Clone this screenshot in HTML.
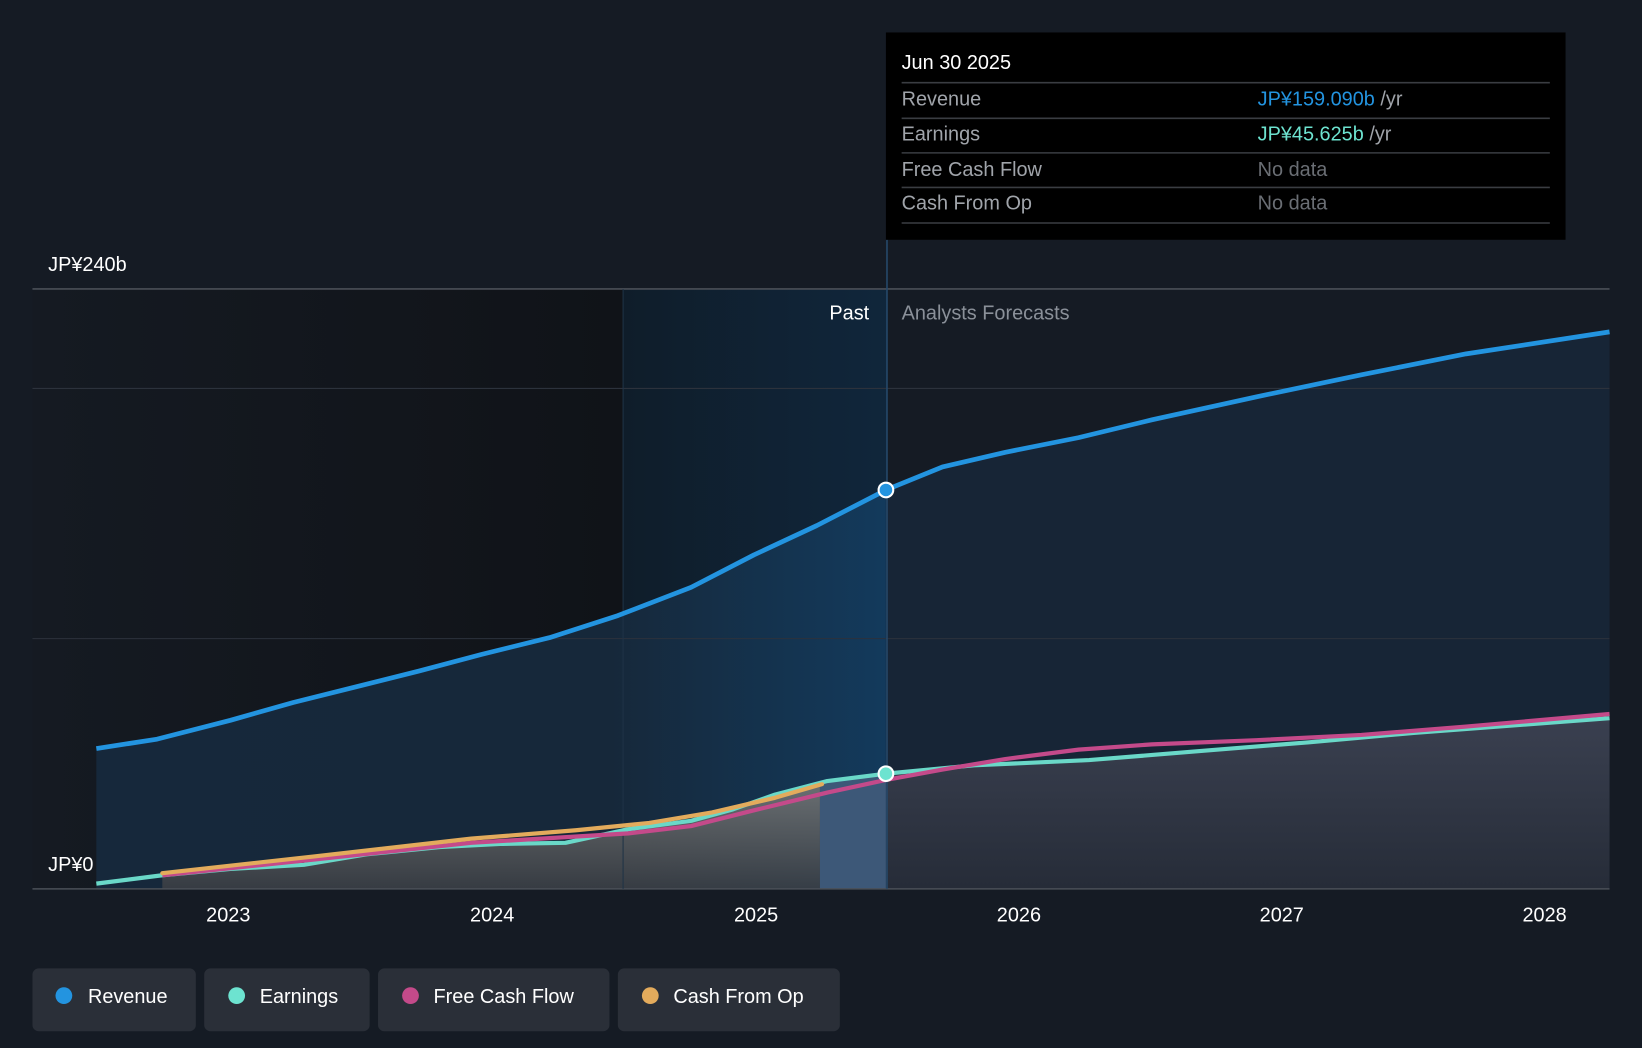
<!DOCTYPE html>
<html><head><meta charset="utf-8"><style>
html,body{margin:0;padding:0;background:#151b24;width:1642px;height:1048px;overflow:hidden}
svg{display:block}
text{font-family:"Liberation Sans",sans-serif}
</style></head><body>
<svg width="1642" height="1048" viewBox="0 0 1568 1001" preserveAspectRatio="none" xmlns="http://www.w3.org/2000/svg">
<defs>
<linearGradient id="pastbg" x1="0" x2="1" y1="0" y2="0">
<stop offset="0" stop-color="#151a22"/><stop offset="1" stop-color="#101318"/></linearGradient>
<linearGradient id="hl" x1="0" x2="1" y1="0" y2="0">
<stop offset="0" stop-color="#0f1d2a"/><stop offset="1" stop-color="#10263b"/></linearGradient>
<linearGradient id="revPast" x1="0" x2="1" y1="0" y2="0">
<stop offset="0" stop-color="#16283b"/><stop offset="0.65" stop-color="#16283a"/><stop offset="1" stop-color="#133a5c"/></linearGradient>
<linearGradient id="earnF" x1="0" x2="0" y1="0" y2="1">
<stop offset="0" stop-color="#3a4050"/><stop offset="1" stop-color="#262c38"/></linearGradient>
<linearGradient id="earnP" x1="0" x2="0" y1="0" y2="1">
<stop offset="0" stop-color="#7a7a78"/><stop offset="1" stop-color="#3c3f44"/></linearGradient>
</defs>
<rect width="1568" height="1001" fill="#151b24"/>
<rect x="31" y="276" width="564" height="573" fill="url(#pastbg)"/>
<rect x="595" y="276" width="252" height="573" fill="url(#hl)"/>
<!-- revenue fill -->
<path d="M92,715 L150,706 L220,688 L280,671 L340,656 L400,641 L460,625 L525,609 L590,588 L660,561 L720,530 L780,502 L846,468 L846,849 L92,849 Z" fill="url(#revPast)"/>
<path d="M846,468 L900,446 L960,432 L1030,418 L1100,401 L1200,379 L1300,358 L1400,338 L1537,317 L1537,849 L846,849 Z" fill="#172536"/>
<!-- earnings fill -->
<path d="M155,836 L220,830 L290,826 L350,816 L420,809 L480,806 L540,805 L600,792 L660,784 L700,773 L740,759 L783,748 L783,849 L155,849 Z" fill="url(#earnP)" opacity="0.85"/>
<path d="M783,748 L846,739 L846,849 L783,849 Z" fill="#3d5878"/>
<path d="M846,739 L930,731 L1040,726 L1150,717 L1250,709 L1350,700 L1537,686 L1537,849 L846,849 Z" fill="url(#earnF)"/>
<!-- grid -->
<line x1="31" x2="1537" y1="276" y2="276" stroke="#4a4f57" stroke-width="1.5"/>
<line x1="31" x2="1537" y1="371" y2="371" stroke="#2c323c" stroke-width="1"/>
<line x1="31" x2="1537" y1="610" y2="610" stroke="#2c323c" stroke-width="1"/>
<line x1="31" x2="1537" y1="849" y2="849" stroke="#4a4f57" stroke-width="1.5"/>
<line x1="595" x2="595" y1="276" y2="849" stroke="#1f3346" stroke-width="1"/>
<line x1="847" x2="847" y1="229" y2="849" stroke="#25496b" stroke-width="1.5"/>
<!-- series -->
<polyline fill="none" stroke="#6ad8c8" stroke-width="4" stroke-linejoin="round" points="92,844 155,836 220,830 290,826 350,816 420,809 480,806 540,805 600,792 660,784 700,773 740,759 790,746 846,739 930,731 1040,726 1150,717 1250,709 1350,700 1537,686"/>
<polyline fill="none" stroke="#c44a8a" stroke-width="4" stroke-linejoin="round" points="155,836 300,821 450,805 600,796 660,789 720,774 790,757 846,745 900,735 960,725 1030,716 1100,711 1200,707 1300,702 1400,694 1537,682"/>
<polyline fill="none" stroke="#e3ab5c" stroke-width="4" stroke-linecap="round" stroke-linejoin="round" points="155,834 300,818 450,801 550,793 620,786 680,776 740,762 785,749"/>
<polyline fill="none" stroke="#2394e0" stroke-width="4.5" stroke-linejoin="round" points="92,715 150,706 220,688 280,671 340,656 400,641 460,625 525,609 590,588 660,561 720,530 780,502 846,468 900,446 960,432 1030,418 1100,401 1200,379 1300,358 1400,338 1537,317"/>
<circle cx="846" cy="468" r="7" fill="#2394e0" stroke="#fff" stroke-width="2"/>
<circle cx="846" cy="739" r="7" fill="#6de3d0" stroke="#fff" stroke-width="2"/>
<!-- labels -->
<text x="46" y="259" fill="#fff" font-size="19">JP¥240b</text>
<text x="46" y="832" fill="#fff" font-size="19">JP¥0</text>
<text x="830" y="305" fill="#fff" font-size="19" text-anchor="end">Past</text>
<text x="861" y="305" fill="#8a9099" font-size="19">Analysts Forecasts</text>
<g fill="#fff" font-size="19" text-anchor="middle">
<text x="218" y="880">2023</text><text x="470" y="880">2024</text><text x="722" y="880">2025</text>
<text x="973" y="880">2026</text><text x="1224" y="880">2027</text><text x="1475" y="880">2028</text>
</g>
<!-- tooltip -->
<rect x="846" y="31" width="649" height="198" fill="#000"/>
<text x="861" y="66" fill="#fff" font-size="19">Jun 30 2025</text>
<g stroke="#3a3d42" stroke-width="1.5">
<line x1="861" x2="1480" y1="79" y2="79"/><line x1="861" x2="1480" y1="113" y2="113"/>
<line x1="861" x2="1480" y1="146" y2="146"/><line x1="861" x2="1480" y1="179" y2="179"/>
<line x1="861" x2="1480" y1="213" y2="213"/></g>
<g font-size="19" fill="#a0a4aa">
<text x="861" y="101">Revenue</text><text x="861" y="134">Earnings</text>
<text x="861" y="168">Free Cash Flow</text><text x="861" y="200">Cash From Op</text></g>
<text x="1201" y="101" font-size="19" fill="#2394e0">JP¥159.090b <tspan fill="#a0a4aa">/yr</tspan></text>
<text x="1201" y="134" font-size="19" fill="#6de3d0">JP¥45.625b <tspan fill="#a0a4aa">/yr</tspan></text>
<text x="1201" y="168" font-size="19" fill="#6a6e74">No data</text>
<text x="1201" y="200" font-size="19" fill="#6a6e74">No data</text>
<!-- legend -->
<g font-size="19" fill="#fff">
<rect x="31" y="925" width="156" height="60" rx="6" fill="#2a2f38"/>
<circle cx="61" cy="951" r="8" fill="#2394e0"/><text x="84" y="958">Revenue</text>
<rect x="195" y="925" width="158" height="60" rx="6" fill="#2a2f38"/>
<circle cx="226" cy="951" r="8" fill="#6de3d0"/><text x="248" y="958">Earnings</text>
<rect x="361" y="925" width="221" height="60" rx="6" fill="#2a2f38"/>
<circle cx="392" cy="951" r="8" fill="#c44a8a"/><text x="414" y="958">Free Cash Flow</text>
<rect x="590" y="925" width="212" height="60" rx="6" fill="#2a2f38"/>
<circle cx="621" cy="951" r="8" fill="#e3ab5c"/><text x="643" y="958">Cash From Op</text>
</g>
</svg>
</body></html>
